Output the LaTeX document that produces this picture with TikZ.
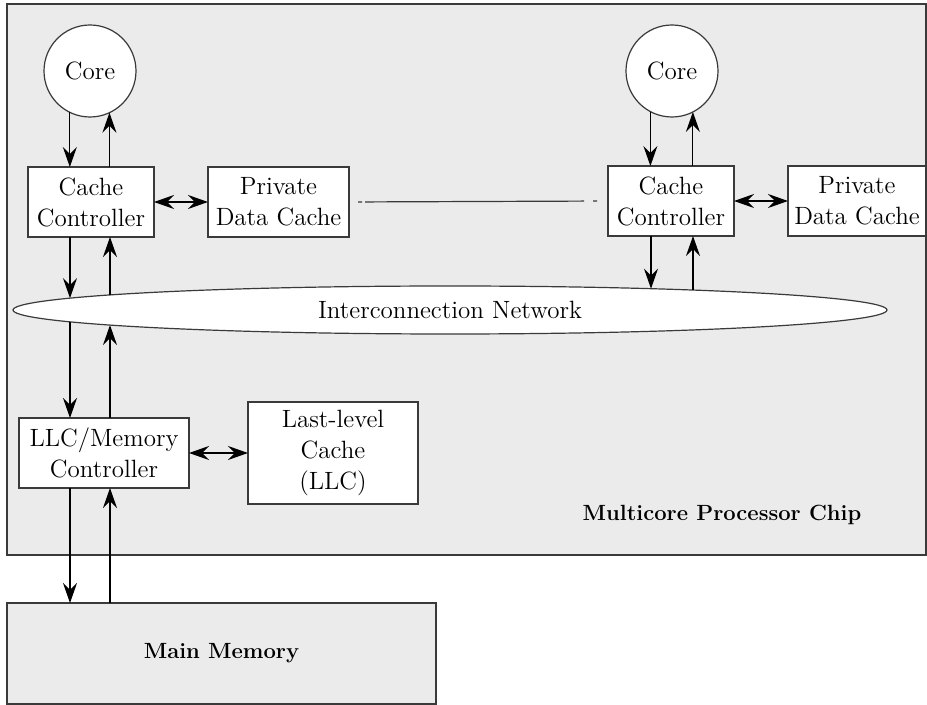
\documentclass[tikz,border=0pt]{standalone}
\usetikzlibrary{arrows.meta,shapes.geometric}
\definecolor{chipfill}{HTML}{EBEBEB}
\definecolor{edge}{HTML}{3A3A3A}
\begin{document}
\begin{tikzpicture}[
        x=0.5pt, y=-0.5pt, % 1 единица = 1 пиксель эскиза
        font=\fontsize{12.5}{15.5}\selectfont,
        tip/.tip = {Stealth[length=10pt, width=7pt, inset=3.5pt]},
        link/.style = {draw, line width=0.6pt, -tip}, % Стрелка
        both/.style = {draw, line width=0.6pt, tip-tip}, % Двусторонняя стрелка
        unit/.style = {rectangle, draw=edge, fill=white, line width=0.6pt,
                align=center, inner sep=2pt, outer sep=0pt}, % Блок
        core/.style = {circle, draw=edge, fill=white, line width=0.6pt,
                minimum size=46pt, inner sep=0pt, outer sep=0pt}, % Ядро
        title/.style = {font=\fontsize{11}{14}\selectfont\bfseries},
    ]

    \useasboundingbox (0,0) rectangle (927,705);

    % Кристалл
    \draw[draw=edge, fill=chipfill, line width=0.6pt] (7,4) rectangle (926,555);
    \node[title] (chip) at (722,515) {Multicore Processor Chip};

    % Левое ядро
    \node[core] (corel) at (90,71) {Core};
    \node[unit, minimum width=63pt, minimum height=35pt] (ccl) at (91,202) {Cache\\Controller};
    \node[unit, minimum width=70.5pt, minimum height=35pt] (pdcl) at (278.5,202) {Private\\Data Cache};

    % Правое ядро
    \node[core] (corer) at (672,71) {Core};
    \node[unit, minimum width=63pt, minimum height=35pt] (ccr) at (671,201) {Cache\\Controller};
    \node[unit, minimum width=69pt, minimum height=35pt] (pdcr) at (857,201) {Private\\Data Cache};

    % Сеть
    \node[ellipse, draw=edge, fill=white, line width=0.6pt, minimum width=437pt,
        minimum height=24pt, inner sep=0pt, outer sep=0pt] (net) at (450,310) {Interconnection Network};

    % LLC и память
    \node[unit, minimum width=85pt, minimum height=35pt] (mc) at (104,453) {LLC/Memory\\Controller};
    \node[unit, minimum width=85pt, minimum height=51pt] (llc) at (333,453) {Last-level\\Cache\\(LLC)};
    \node[unit, fill=chipfill, title, minimum width=214.5pt, minimum height=50.5pt] (mem) at (221.5,653.5) {Main Memory};

    % Точки на границах
    \coordinate (cl1) at (corel.244.21);
    \coordinate (cl2) at (corel.295.79);
    \coordinate (cr1) at (corer.242.84);
    \coordinate (cr2) at (corer.297.16);
    \coordinate (nt1) at (70,298.15);
    \coordinate (nt2) at (110,294.92);
    \coordinate (nb1) at (70,321.85);
    \coordinate (nb2) at (110,325.08);
    \coordinate (nr1) at (651,288.69);
    \coordinate (nr2) at (693,290.05);

    \draw[link] (cl1) -- (cl1 |- ccl.north);
    \draw[link] (cl2 |- ccl.north) -- (cl2);
    \draw[link] (cr1) -- (cr1 |- ccr.north);
    \draw[link] (cr2 |- ccr.north) -- (cr2);

    \draw[both] (ccl) -- (pdcl);
    \draw[both] (ccr) -- (pdcr);
    \draw[edge, line width=0.6pt, dash pattern=on 2pt off 1.5pt on 109.5pt off 4.5pt on 2pt off 10pt,
        dash phase=125pt] (pdcl.east) -- (ccr.west);

    \draw[link] (nt1 |- ccl.south) -- (nt1);
    \draw[link] (nt2) -- (nt2 |- ccl.south);
    \draw[link] (nr1 |- ccr.south) -- (nr1);
    \draw[link] (nr2) -- (nr2 |- ccr.south);

    \draw[link] (nb1) -- (nb1 |- mc.north);
    \draw[link] (nb2 |- mc.north) -- (nb2);
    \draw[both] (mc) -- (llc);

    \draw[link] (nb1 |- mc.south) -- (nb1 |- mem.north);
    \draw[link] (nb2 |- mem.north) -- (nb2 |- mc.south);
\end{tikzpicture}
\end{document}
